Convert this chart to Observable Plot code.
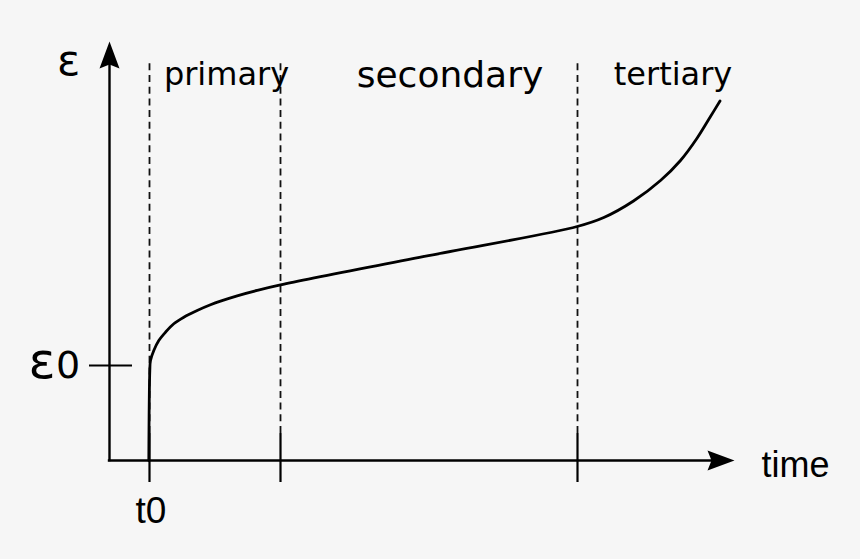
<!DOCTYPE html>
<html><head><meta charset="utf-8">
<script src="https://cdn.jsdelivr.net/npm/d3@7"></script>
<script src="https://cdn.jsdelivr.net/npm/@observablehq/plot@0.6"></script>
<style>html,body{margin:0;padding:0;background:#f6f6f6;}</style>
</head><body><div id="chart"></div>
<script>
// creep curve: strain vs time (arbitrary units, 0–100 on both axes)
const time   = [6.29, 6.45, 6.56, 7.09, 7.89, 8.96, 10.29, 11.89, 14.03, 16.16, 17.76, 20.43, 23.63, 27.36, 51.04, 74.83, 79.09, 83.84, 88.16, 91.36, 94.03, 96.16, 97.68];
const strain = [0, 21.48, 23.87, 26.25, 28.64, 30.62, 32.63, 34.2, 35.8, 37.16, 38.04, 39.31, 40.6, 41.91, 48.88, 55.85, 57.99, 61.93, 66.83, 71.6, 76.97, 82.1, 85.8];
const phaseBounds = [6.4, 27.36, 74.88];      // t0, end of primary, end of secondary
const phaseNames  = ["primary", "secondary", "tertiary"];
const epsilon0 = 22.67;
const xTickLabel = "t0";
const yTickLabel = "0";
const xAxisTitle = "time";
const yAxisTitle = "ε";

const curve = time.map((t, i) => ({t, e: strain[i]}));

// filled, notched arrowhead pointing up with its tip at the symbol origin
const arrowHead = {
  draw(ctx, size) {
    const k = Math.sqrt(size / Math.PI) / 10;
    ctx.moveTo(0, 0);
    ctx.lineTo(10 * k, 27 * k);
    ctx.lineTo(0, 23 * k);
    ctx.lineTo(-10 * k, 27 * k);
    ctx.closePath();
  }
};

const phaseLabels = [
  {x: 18.72, y: 89.5, text: phaseNames[0], size: 32},
  {x: 54.48, y: 89.1, text: phaseNames[1], size: 36},
  {x: 90.16, y: 89.5, text: phaseNames[2], size: 32}
];

const chart = Plot.plot({
  width: 860,
  height: 559,
  marginLeft: 109,
  marginRight: 126,
  marginTop: 41,
  marginBottom: 99,
  style: {background: "#f6f6f6", overflow: "visible"},
  x: {domain: [0, 100], axis: null},
  y: {domain: [0, 100], axis: null},
  marks: [
    Plot.ruleX(phaseBounds, {y1: 6.44, y2: 94.75, stroke: "#111", strokeWidth: 1.8, strokeDasharray: "7,4.7"}),
    Plot.ruleX(phaseBounds, {y1: -5.25, y2: 6.44, stroke: "#000", strokeWidth: 2.2}),
    Plot.ruleX([0], {y1: 0, y2: 95, stroke: "#000", strokeWidth: 2.4, strokeLinecap: "square"}),
    Plot.ruleY([0], {x1: 0, x2: 96.5, stroke: "#000", strokeWidth: 2.4, strokeLinecap: "square"}),
    Plot.ruleY([epsilon0], {x1: -3.2, x2: 3.68, stroke: "#000", strokeWidth: 2.2}),
    Plot.line(curve, {x: "t", y: "e", curve: "catmull-rom", stroke: "#000", strokeWidth: 2.8}),
    Plot.dot([{x: 0, y: 100, r: 0}, {x: 100, y: 0, r: 90}], {x: "x", y: "y", rotate: "r", symbol: arrowHead, r: 10, fill: "#000", stroke: "none"}),
    Plot.text(phaseLabels.filter(d => d.size === 32), {x: "x", y: "y", text: "text", fontSize: 32, fontFamily: "DejaVu Sans", lineAnchor: "bottom", fill: "#000"}),
    Plot.text(phaseLabels.filter(d => d.size === 36), {x: "x", y: "y", text: "text", fontSize: 36, fontFamily: "DejaVu Sans", lineAnchor: "bottom", fill: "#000"}),
    Plot.text([xAxisTitle], {x: 104.32, y: -3.82, text: d => d, textAnchor: "start", fontSize: 36, fontFamily: "Liberation Sans", lineAnchor: "bottom", fill: "#000"}),
    Plot.text([xTickLabel], {x: phaseBounds[0] + 0.24, y: -14.8, text: d => d, fontSize: 37, fontFamily: "Liberation Sans", lineAnchor: "bottom", fill: "#000"}),
    Plot.text([yAxisTitle], {x: -6.56, y: 92.1, text: d => d, fontSize: 43, fontFamily: "DejaVu Sans", lineAnchor: "bottom", fill: "#000"}),
    Plot.text([yAxisTitle], {x: -10.8, y: 19.64, text: d => d, fontSize: 50, fontFamily: "DejaVu Sans", lineAnchor: "bottom", fill: "#000"}),
    Plot.text([yTickLabel], {x: -6.64, y: 19.64, text: d => d, fontSize: 38, fontFamily: "DejaVu Sans", lineAnchor: "bottom", fill: "#000"})
  ]
});
document.getElementById("chart").appendChild(chart);
</script>
</body></html>
